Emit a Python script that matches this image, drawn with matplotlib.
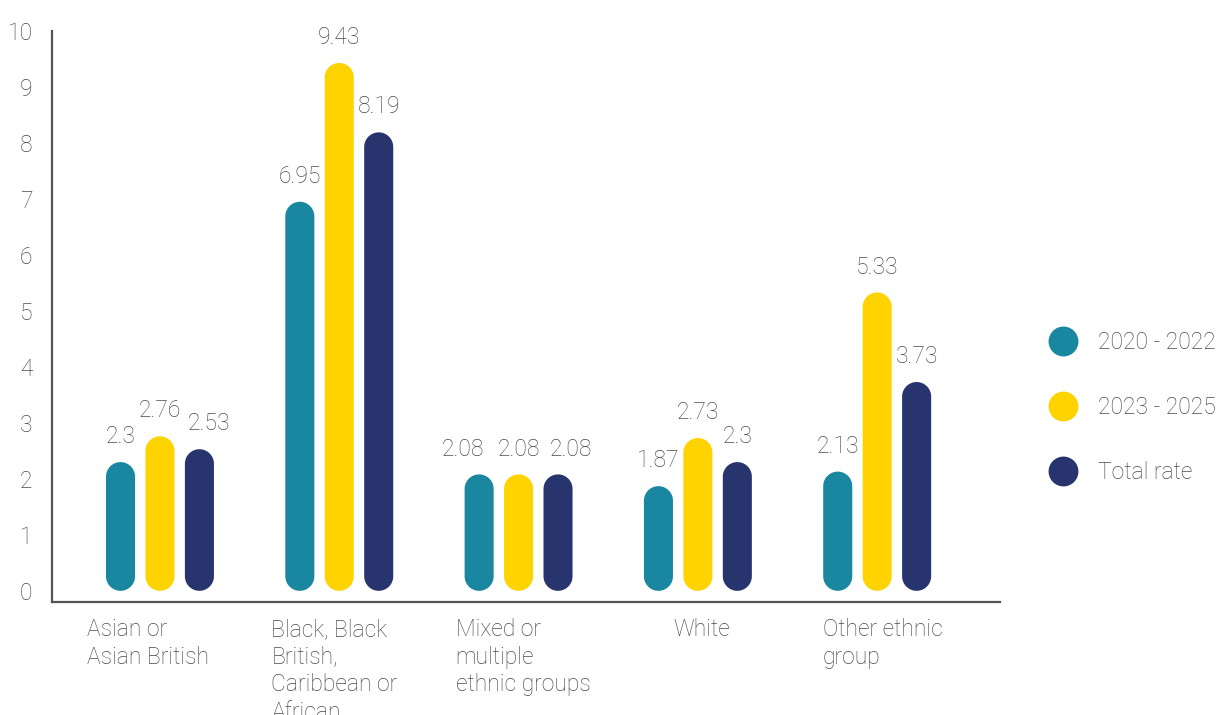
import matplotlib
matplotlib.use("Agg")
import numpy as np
import matplotlib.pyplot as plt
from matplotlib.patches import Polygon
from matplotlib.lines import Line2D
import matplotlib.transforms as mtransforms

# Data
categories = ["Asian or\nAsian British",
              "Black, Black\nBritish,\nCaribbean or\nAfrican",
              "Mixed or\nmultiple\nethnic groups",
              "White",
              "Other ethnic\ngroup"]
series_names = ["2020 - 2022", "2023 - 2025", "Total rate"]
rate_2020_2022 = [2.3, 6.95, 2.08, 1.87, 2.13]
rate_2023_2025 = [2.76, 9.43, 2.08, 2.73, 5.33]
total_rate = [2.53, 8.19, 2.08, 2.3, 3.73]

colors = ["#18879F", "#FFD300", "#27346D"]
text_color = "#4a4a4a"

plt.rcParams["font.family"] = ["Roboto", "DejaVu Sans"]
plt.rcParams["font.weight"] = "light"

fig = plt.figure(figsize=(12.27, 7.15), dpi=100)
ax = fig.add_axes([0.0424, 0.158, 0.815 - 0.0424, 0.9566 - 0.158])

xmin, xmax = -0.602, 4.685
ymin, ymax = -0.2, 10.0
ax.set_xlim(xmin, xmax)
ax.set_ylim(ymin, ymax)

# pixel aspect so the bar ends come out as real semicircles
fig.canvas.draw()
bbox = ax.get_window_extent()
aspect = (bbox.width / (xmax - xmin)) / (bbox.height / (ymax - ymin))

width = 0.162
offsets = [-0.22, 0.0, 0.22]
all_series = [rate_2020_2022, rate_2023_2025, total_rate]
# small sideways nudges (points) so crowded value labels don't collide
label_nudge = {(2, 0): -12, (2, 2): 9, (0, 2): 7}
# category label block shifts (data units)
cat_shift = [-0.065, -0.026, 0.025, 0.02, 0.03]


def pill(xc, v, w):
    ry = w / 2 * aspect
    t = np.linspace(0, np.pi, 40)
    top = np.column_stack([xc + w / 2 * np.cos(t), (v - ry) + ry * np.sin(t)])
    bot = np.column_stack([xc - w / 2 * np.cos(t), ry - ry * np.sin(t)])
    return np.vstack([top, bot])


for s, (vals, off, col) in enumerate(zip(all_series, offsets, colors)):
    for i, v in enumerate(vals):
        xc = i + off
        ax.add_patch(Polygon(pill(xc, v, width), closed=True,
                             facecolor=col, edgecolor="none"))
        dx = label_nudge.get((i, s), 0)
        ax.annotate(f"{v:g}", xy=(xc, v), xytext=(dx, 10),
                    textcoords="offset points", ha="center", va="bottom",
                    fontsize=16.5, color=text_color)

# Axes styling
for side in ["top", "right"]:
    ax.spines[side].set_visible(False)
for side in ["left", "bottom"]:
    ax.spines[side].set_color("#555555")
    ax.spines[side].set_linewidth(1.6)

ax.set_yticks(range(0, 11))
ax.tick_params(axis="y", length=0, pad=14, labelsize=16.5, labelcolor=text_color)
ax.set_xticks([])

# Category labels below the axis
trans = mtransforms.blended_transform_factory(ax.transData, ax.transAxes)
for i, cat in enumerate(categories):
    ax.text(i + cat_shift[i], -0.028, cat, transform=trans, ha="center", va="top",
            multialignment="left", fontsize=16.5, color=text_color,
            linespacing=1.25)

# Legend
handles = [Line2D([], [], marker="o", linestyle="none", markersize=21.5,
                  markerfacecolor=c, markeredgecolor="none") for c in colors]
fig.legend(handles, series_names, loc="center left",
           bbox_to_anchor=(0.838, 0.43), frameon=False, fontsize=16.5,
           labelcolor=text_color, labelspacing=1.85, handletextpad=0.55,
           borderpad=0)

fig.savefig("out.png", dpi=100, facecolor="white")
